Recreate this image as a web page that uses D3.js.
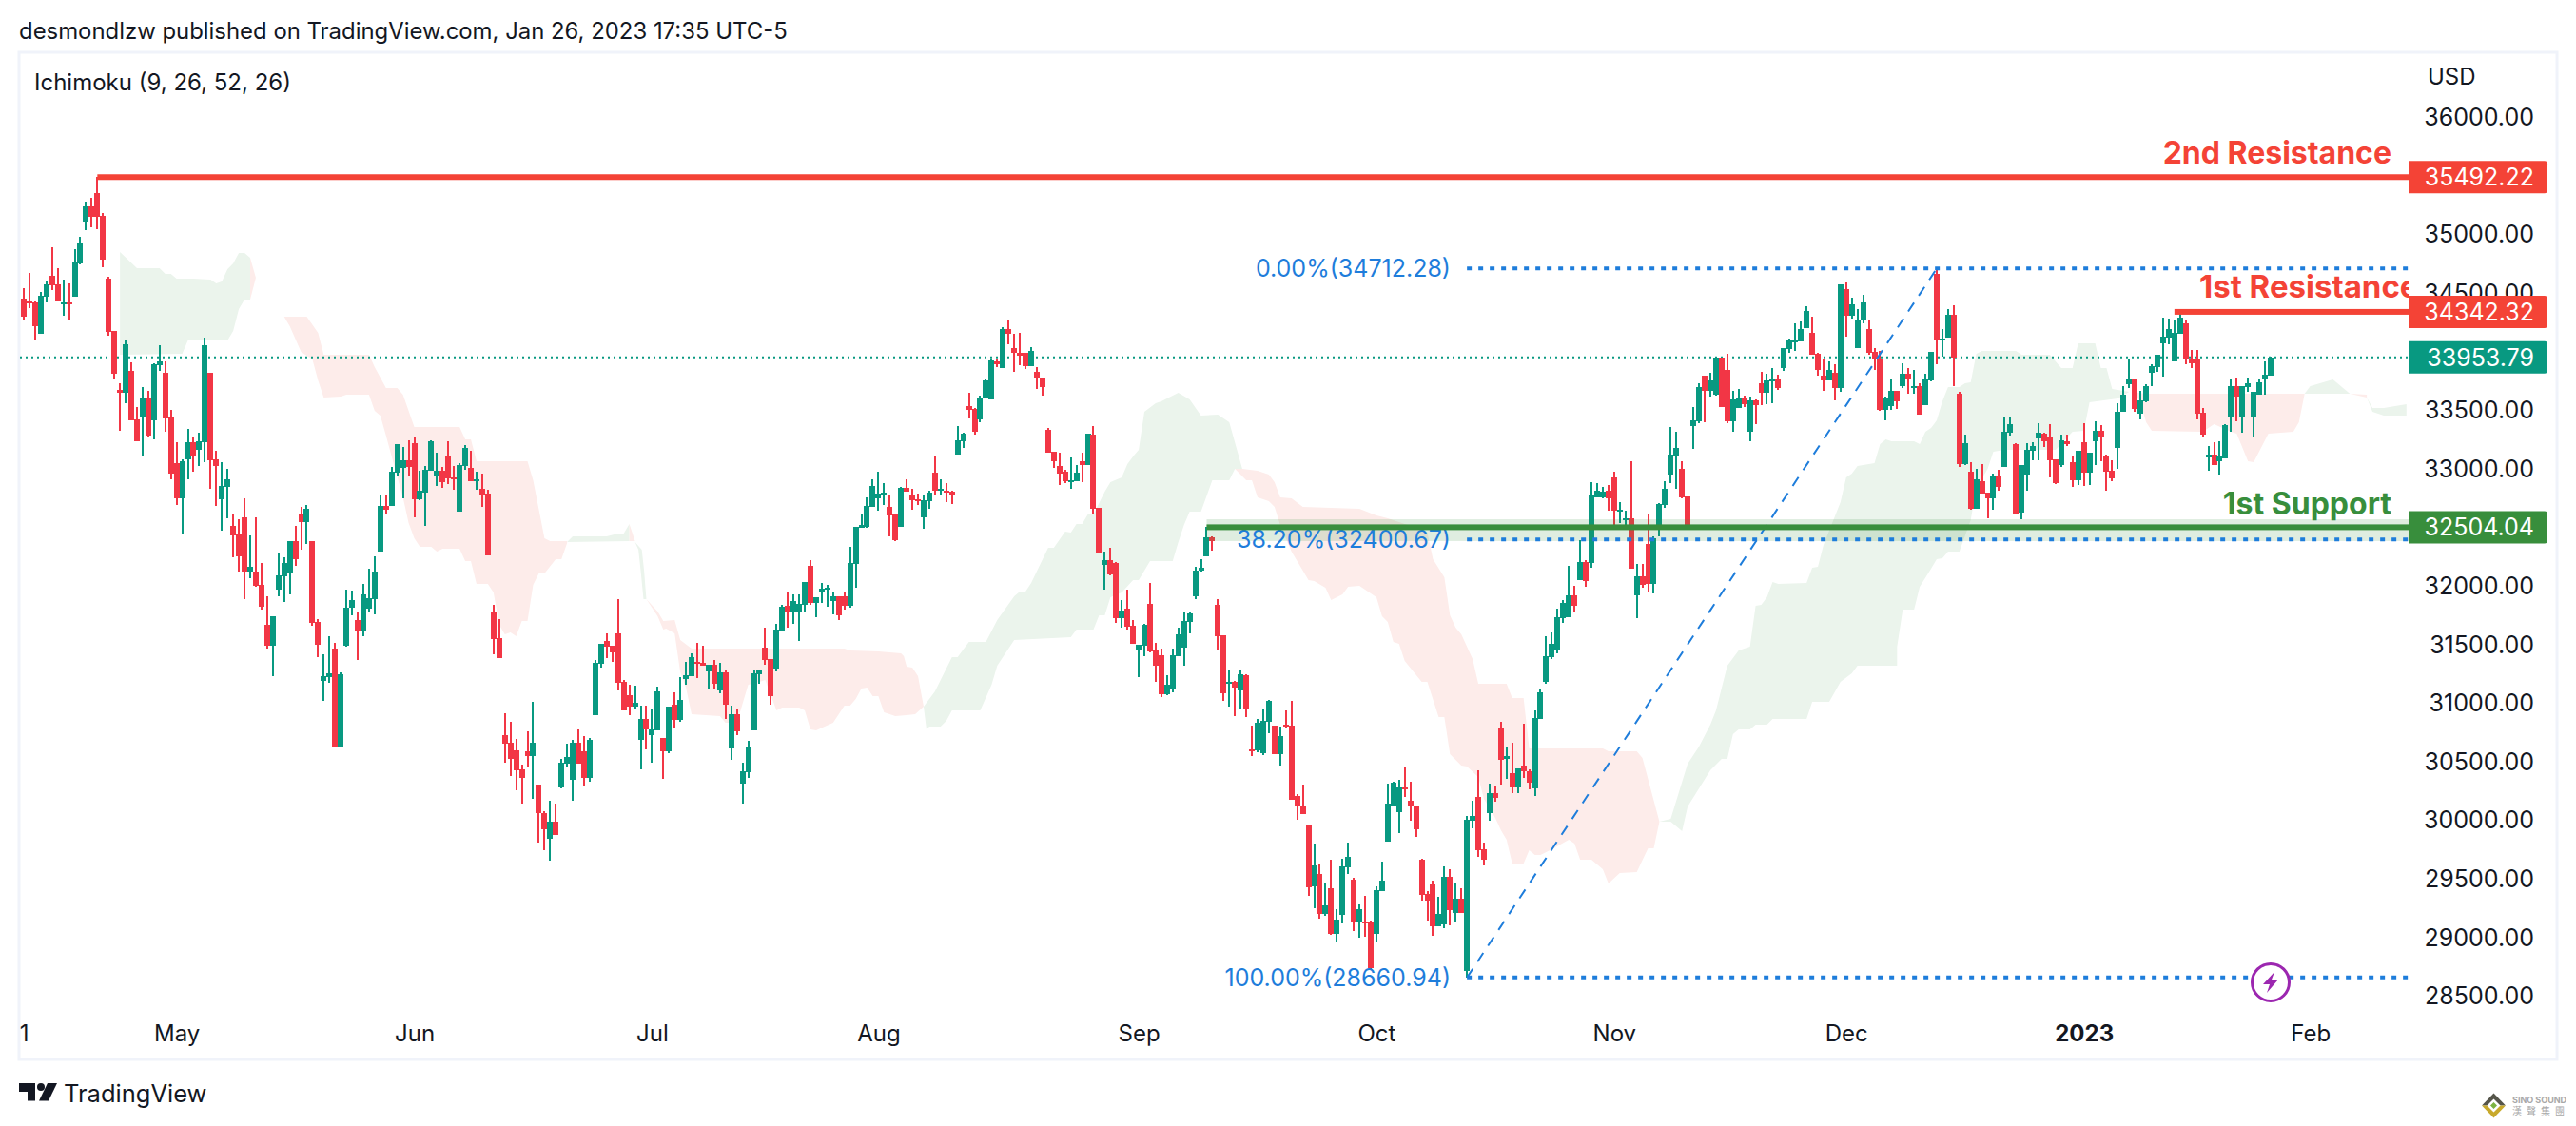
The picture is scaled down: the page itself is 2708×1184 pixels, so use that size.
<!DOCTYPE html>
<html>
<head>
<meta charset="utf-8">
<script src="https://cdnjs.cloudflare.com/ajax/libs/d3/7.8.5/d3.min.js"></script>
<style>
  html, body { margin: 0; padding: 0; background: #fff; }
  svg { display: block; }
  text { font-family: Inter, "Noto Sans", sans-serif; fill: #131722; }
</style>
</head>
<body>
<svg id="chart" width="2708" height="1184"></svg>
<script>
// Candles, one value per bar
var opens = [
34456,34431,34420,34155,34474,34650,34577,34407,34423,34472,
34756,35113,35243,35356,35162,34626,34180,33676,33652,33839,
33425,33441,33603,33417,33887,33822,33441,33051,32751,33084,
33230,33165,33230,33822,33084,32743,32848,32516,32443,32589,
32126,32126,32012,31671,31493,31972,32085,32110,32386,32613,
32548,32386,31696,31192,31228,31468,30636,31493,31818,31712,
31623,31809,31891,32296,32686,32686,32970,33011,33076,33222,
32743,32800,32986,32946,32986,33116,32930,32637,33027,33011,
32897,32832,32792,31777,31558,30730,30665,30600,30438,30592,
30551,30308,30064,29845,29991,30284,30486,30348,30665,30592,
30365,30900,31339,31533,31493,31598,31184,31071,30973,30689,
30868,30730,30771,30706,30591,30989,30859,31208,31232,31354,
31346,31273,31330,31111,31265,30616,30908,30315,30413,30770,
31249,31476,31379,31297,31622,31833,31776,31784,31841,32174,
31857,31947,31971,31874,31914,31914,31833,32190,32499,32507,
32677,32750,32775,32677,32612,32507,32840,32775,32742,32588,
32726,32969,32815,32815,32807,33124,33237,33538,33513,33424,
33603,33595,33920,33863,34196,34033,33993,33993,33879,33830,
33782,33335,33149,33027,32978,32897,32897,33067,33035,33295,
32670,32183,32223,32199,31728,31809,31663,31452,31493,31850,
31452,31412,31079,31119,31403,31477,31696,31915,32134,32256,
32418,31842,31582,31168,31184,31111,31241,30608,30600,30576,
30843,30811,30567,30819,30811,30210,30129,29959,29439,29545,
29204,29423,29034,29196,29602,29496,29131,29139,29139,29034,
29399,29821,30130,30073,30284,30170,30130,29667,29375,29456,
29099,29115,29521,29212,29334,28717,30000,30203,29756,30065,
30235,30795,30527,30405,30284,30470,30422,30276,30868,31185,
31396,31453,31728,31737,31923,32053,32207,32199,32759,32759,
32816,32933,32637,32564,32580,31923,32085,32361,32020,32499,
32694,32953,33116,33002,32767,33367,33408,33798,33668,33635,
33952,33846,33408,33522,33611,33319,33587,33733,33651,33757,
33765,33863,34025,34090,34090,34203,34163,33984,33798,33757,
33822,33692,34536,34309,34033,34268,34195,34000,33944,33505,
33538,33668,33708,33814,33700,33708,33546,33757,34666,34098,
34122,34317,33643,33043,32978,32662,32897,32800,32751,32938,
33019,33311,33213,32629,32954,33157,33262,33303,33278,33084,
33035,33238,33059,32905,33230,32970,33238,33327,33108,32986,
33181,33489,33725,33774,33473,33579,33822,33871,34074,34123,
33920,34155,34244,33944,33944,33481,33100,33124,33067,33092,
33449,33709,33449,33701,33449,33635,33765,33798];

var highs = [
34542,34672,34434,34510,34602,34894,34715,34618,34585,34878,
34983,35283,35316,35492,35186,34642,34180,33733,34106,33912,
33530,33701,33668,33904,34058,33920,33506,33230,33084,33344,
33279,33311,34123,33822,33157,33059,33003,32613,32572,32751,
32434,32589,32199,31915,31744,32280,32248,32386,32516,32678,
32694,32386,31720,31423,31574,31517,31265,31972,31964,31777,
32021,32150,32256,32775,32775,33019,33214,33189,33246,33270,
32986,33027,33246,33141,33019,33238,33027,33051,33206,33157,
32978,32962,32824,31842,31720,30917,30844,30698,30478,30762,
31014,30308,30081,30170,30146,30527,30657,30689,30779,30722,
30706,31371,31509,31598,31493,31891,31201,31160,31152,30982,
30982,30957,31144,30706,30973,31095,31224,31354,31427,31517,
31492,31330,31370,31346,31281,30981,30948,30494,30681,31289,
31289,31646,31379,31679,31841,31947,31931,31931,32036,32223,
31906,32028,32012,31947,31914,31955,32336,32507,32612,32758,
32913,32978,32880,32775,32612,32848,32913,32832,32791,32775,
32815,33107,32913,32880,32815,33367,33310,33651,33521,33627,
33765,33948,33944,34212,34277,34155,34163,33993,34041,33871,
33782,33351,33149,33140,32994,33100,33035,33140,33303,33368,
32670,32296,32329,32207,31882,31972,31712,31501,31679,32028,
31517,31468,31241,31468,31647,31785,31785,32166,32231,32507,
32426,31890,31582,31282,31192,31282,31249,30811,30868,30957,
31030,30811,30803,30941,31022,30228,30308,29959,29805,29634,
29472,29667,29245,29675,29813,29513,29285,29358,29147,29440,
29651,30316,30332,30349,30462,30332,30130,29675,29399,29488,
29350,29610,29586,29464,29423,30040,30170,30430,29813,30316,
30292,30844,30625,30665,30446,30827,30438,30941,31120,31574,
31607,31810,31883,32175,32004,32394,32224,32889,32880,32848,
32864,32978,32718,32645,33067,32190,32190,32613,32426,32710,
32897,33359,33319,33067,32767,33530,33733,33798,33822,33960,
33952,33984,33668,33684,33627,33619,33595,33830,33814,33863,
33806,34033,34114,34244,34260,34390,34301,33992,33936,33919,
33895,34577,34593,34463,34366,34487,34276,34033,34009,33619,
33773,33668,33903,33863,33846,33733,33814,34000,34712,34195,
34366,34398,33660,33295,33059,33002,33043,32800,32962,32994,
33441,33441,33222,33035,33222,33230,33392,33311,33384,33084,
33295,33295,33116,33157,33392,33140,33408,33376,33124,33076,
33562,33709,33936,33774,33668,33725,33895,33976,34293,34285,
34269,34342,34269,34017,34017,33522,33197,33230,33238,33384,
33774,33782,33709,33782,33660,33774,33920,33960];

var lows = [
34277,34374,34109,34155,34423,34529,34439,34309,34277,34472,
34748,35040,35064,35048,34723,34139,33774,33327,33563,33417,
33238,33108,33279,33254,33839,33319,32913,32694,32451,32913,
32978,33027,33059,32832,32686,32475,32581,32248,32126,31891,
32069,31996,31801,31468,31236,31915,31866,31931,32175,32313,
32361,31663,31395,31022,31176,30636,30636,31485,31753,31371,
31574,31785,31761,32296,32613,32686,32946,32751,32946,32589,
32735,32516,32986,32857,32840,32873,32824,32637,32995,32897,
32824,32678,32264,31420,31387,30495,30381,30259,30146,30462,
30186,29813,29748,29658,29878,30275,30454,30170,30486,30300,
30332,30900,31306,31387,31355,31111,30941,30900,30949,30438,
30608,30495,30771,30356,30575,30794,30843,31159,31232,31216,
31322,31127,31119,31086,30867,30518,30729,30145,30364,30770,
31168,31330,30989,31273,31622,31646,31679,31533,31784,31841,
31736,31857,31825,31760,31711,31801,31817,31987,32499,32499,
32677,32645,32693,32426,32385,32507,32807,32653,32693,32491,
32661,32775,32775,32718,32702,33124,33181,33432,33294,33400,
33603,33595,33871,33863,34066,33830,33887,33855,33879,33684,
33628,33140,33011,32864,32881,32832,32897,32889,33035,32621,
32280,31972,32093,31688,31647,31631,31509,31225,31403,31436,
31184,31054,31071,31095,31403,31322,31598,31890,32126,32256,
32304,31460,31022,30973,30892,30949,30884,30551,30584,30559,
30746,30567,30470,30787,30178,30007,30059,29358,29253,29164,
29188,29026,28961,29123,29545,29058,29001,29009,28725,28961,
29399,29821,30121,29894,30203,30000,29862,29318,29147,29017,
29099,29082,29107,29139,29212,28661,29935,29691,29618,30000,
30162,30308,30357,30235,30235,30365,30267,30211,30868,31168,
31379,31428,31688,31737,31777,32053,31996,32159,32759,32751,
32646,32507,32540,32499,32150,31728,31988,31955,31939,32426,
32669,32880,32832,32750,32483,33173,33392,33400,33619,33627,
33530,33392,33319,33522,33530,33238,33384,33546,33554,33562,
33676,33838,33992,34009,34090,34203,33976,33798,33668,33757,
33587,33660,34130,34285,34033,34244,33976,33846,33497,33416,
33505,33513,33692,33643,33643,33465,33546,33749,33895,33960,
34122,33708,33018,33035,32653,32662,32791,32580,32653,32816,
33019,33287,32613,32572,32816,33076,33076,33189,32929,32873,
33019,33197,32848,32864,32856,32864,33035,33067,32816,32897,
33002,33489,33692,33489,33425,33571,33709,33830,33790,34066,
33920,34155,33895,33863,33425,33270,32986,33035,32954,33092,
33319,33408,33311,33660,33278,33635,33635,33798];

var closes = [
34299,34415,34220,34480,34577,34569,34439,34423,34415,34764,
34934,35243,35154,35154,34788,34171,33814,33652,34066,33417,
33238,33603,33287,33895,33920,33433,32962,32751,33068,33230,
33108,33238,34058,33076,33027,32857,32913,32434,32256,32126,
32167,32004,31826,31493,31744,32094,32199,32386,32231,32548,
32662,31688,31501,31233,31257,30636,31249,31818,31883,31623,
31931,31899,32126,32686,32654,32978,33214,33076,33019,32743,
32816,32995,33238,32986,32889,32921,32913,33035,33181,32897,
32913,32783,32264,31550,31387,30657,30527,30430,30365,30551,
30665,30064,29926,29991,29878,30495,30543,30665,30486,30365,
30689,31347,31509,31485,31436,31176,30941,30973,31006,30868,
30779,30779,31103,30592,30973,30859,31030,31241,31395,31338,
31322,31330,31168,31265,30989,30908,30762,30421,30624,31257,
31289,31370,31062,31630,31825,31776,31874,31849,32036,31857,
31906,31979,31987,31914,31752,31833,32198,32507,32523,32685,
32856,32791,32799,32604,32393,32840,32807,32734,32726,32734,
32799,32815,32832,32799,32775,33245,33302,33505,33319,33611,
33757,33928,33899,34196,34151,33993,33968,33879,34009,33782,
33700,33140,33067,32962,32897,32905,32970,33035,33303,32662,
32280,32223,32102,31728,31793,31655,31509,31501,31671,31444,
31322,31079,31160,31412,31590,31704,31769,32134,32158,32418,
32386,31574,31087,31184,31136,31249,30957,30600,30835,30851,
31022,30567,30722,30803,30178,30129,30059,29431,29618,29204,
29277,29034,29155,29610,29691,29131,29245,29131,28741,29407,
29488,30146,30324,30284,30267,30121,29927,29366,29318,29099,
29204,29521,29237,29334,29212,30008,30040,29748,29667,30235,
30194,30519,30552,30284,30446,30422,30324,30876,31095,31404,
31509,31737,31858,31923,31834,32207,32045,32776,32816,32808,
32747,32646,32653,32580,32150,32085,32012,32020,32410,32702,
32832,33124,33181,32759,32507,33416,33700,33668,33757,33952,
33530,33408,33595,33611,33554,33587,33546,33651,33757,33765,
33692,34033,34098,34098,34195,34350,33976,33846,33757,33846,
33692,34577,34309,34406,34276,34423,33992,33936,33505,33603,
33668,33578,33814,33773,33708,33465,33765,34000,34098,34114,
34317,33952,33043,33222,32662,32913,32791,32751,32938,32848,
33319,33384,32621,33035,33165,33197,33311,33238,33076,32881,
33246,33213,32905,33157,32970,33140,33327,33270,32978,32921,
33489,33635,33774,33514,33587,33709,33879,33976,34131,34196,
34163,34293,33944,33903,33473,33295,33124,33035,33108,33376,
33709,33619,33709,33733,33660,33741,33806,33952];

// Ichimoku cloud outlines as [bar, price]
var kumoGreen1 = [[18,34853],[21,34715],[25,34715],[26,34666],[27,34666],[28,34626],[31,34626],[34,34618],[35,34585],[36,34601],[37,34707],[38,34756],[39,34845],[40,34845],[41,34804],[41,34447],[40,34447],[39,34366],[38,34179],[37,34098],[30,34098],[29,33984],[18,33976]];
var kumoRed1 = [[41,34804],[42,34634],[41,34447]];
var kumoRed2 = [[47,34301],[51,34301],[53,34163],[54,33976],[62,33976],[63,33871],[65,33692],[67,33692],[68,33635],[70,33359],[78,33359],[79,33254],[80,33254],[81,33067],[90,33067],[91,32905],[93,32410],[94,32385],[97,32385],[97,32369],[96,32231],[95,32231],[93,32109],[92,32109],[91,32012],[90,31703],[89,31703],[88,31574],[87,31606],[86,31590],[85,31671],[84,31947],[83,32020],[81,32020],[80,32215],[79,32215],[78,32321],[75,32321],[74,32296],[73,32337],[71,32337],[70,32410],[69,32540],[68,32759],[66,33108],[65,33286],[64,33457],[63,33497],[62,33635],[58,33635],[57,33619],[54,33611],[53,33757],[52,33936],[50,34001],[48,34220]];
var kumoGreen2 = [[97,32377],[98,32426],[104,32426],[106,32450],[107,32450],[108,32532],[108,32385]];
var kumoRed3 = [[108,32532],[109,32385],[108,32385]];
var kumoGreen3 = [[109,32377],[110.2,32312],[110.6,32134],[111,31890],[110.5,31890],[110,32134],[109.6,32312]];
var kumoRed4 = [[111,31890],[113,31785],[114,31703],[116,31712],[117,31541],[119,31468],[146,31468],[147,31452],[152,31444],[154,31436],[156,31428],[156.5,31403],[157,31314],[158,31306],[159,31233],[160,30973],[158.5,30908],[157,30900],[155,30892],[153,30924],[152,31062],[151,31062],[150,31135],[149,31127],[148,31038],[147,30981],[146,30981],[144,30835],[141,30770],[140,30778],[139,30941],[138,30965],[135,30965],[134,30941],[132,31200],[131,31184],[129,31160],[127,30835],[125,30835],[124,30892],[119,30908],[118,31135],[117,31265],[116,31598],[114.5,31639],[114,31630],[113,31744]];
var kumoGreen4 = [[160,30973],[162,31103],[165,31395],[166,31395],[168,31525],[171,31525],[173,31712],[176,31915],[177,31955],[178,31955],[179,32028],[182,32328],[183,32328],[185,32467],[186,32458],[187,32532],[188,32532],[189,32613],[190,32613],[192,32807],[193,32889],[195,32929],[196,33043],[197,33108],[198,33165],[199,33489],[201,33562],[202,33579],[205,33652],[207,33595],[209,33457],[212,33465],[214,33400],[216.3,33002],[215,33002],[214,32905],[211,32905],[209,32637],[207,32637],[206,32523],[205,32377],[204,32215],[200,32215],[198,32053],[197,32053],[195,31947],[193,31906],[192,31752],[191,31752],[190,31630],[187,31630],[186,31566],[176,31541],[173,31322],[172,31160],[170,30941],[165,30941],[164,30851],[163,30803],[161,30803],[160.5,30778]];
var kumoRed5 = [[216.3,33002],[219,32986],[221,32954],[222,32889],[223,32759],[225,32751],[227,32678],[237,32661],[240,32605],[242,32580],[247,32499],[249,32458],[250,32231],[252,32077],[253,31752],[254,31647],[255,31590],[257,31379],[258,31168],[263,31168],[264,31046],[266,31046],[267,30616],[280,30616],[281,30592],[286,30592],[287,30535],[290,29991],[289,29764],[288,29764],[286,29561],[283,29553],[281,29463],[280,29585],[278,29666],[276,29666],[275,29804],[274,29837],[271,29756],[269,29707],[268,29707],[267,29747],[266,29634],[264,29634],[263,29837],[262,29918],[261,30023],[259,30186],[258,30372],[256,30462],[255,30470],[253,30567],[252,30884],[251,30884],[249,31184],[248,31184],[245,31363],[244,31509],[243,31525],[242,31695],[241,31744],[240,31906],[237,32004],[235,31996],[234,31931],[232,31882],[231,31988],[229,32045],[228,32053],[226,32215],[225,32296],[223,32523],[222,32678],[221,32726],[219,32759],[218,32905],[217,32905],[215,33002]];
var kumoGreen5 = [[290,29991],[292,30015],[295,30486],[297,30632],[299,30819],[300,30941],[302,31322],[304,31452],[306,31484],[307,31833],[308,31842],[309,31906],[310,32036],[311,32020],[316,32028],[317,32158],[318,32166],[319,32353],[321,32596],[322,32718],[323,32929],[324,32962],[325,33027],[328,33051],[329,33213],[330,33254],[331,33238],[335,33238],[336,33213],[337,33319],[338,33351],[339,33416],[340,33579],[341,33701],[343,33701],[344,33733],[345,33741],[346,33984],[347,34009],[353,34009],[354,33976],[359,33976],[361,33863],[363,33863],[364,34074],[367,34074],[368,33863],[369,33863],[370,33684],[373,33660],[371,33603],[366,33571],[365,33327],[363,33319],[360,33165],[351,33165],[349,33148],[348,33002],[346,32840],[345,32564],[343,32296],[341,32296],[340,32239],[339,32231],[338,32150],[336,31996],[335,31801],[333,31801],[332,31484],[332,31322],[325,31322],[324,31257],[322,31184],[320,31014],[317,31014],[316,30868],[310,30868],[309,30819],[307,30819],[306,30778],[304,30778],[303,30738],[302,30526],[301,30526],[299,30429],[295,30121],[294,29910],[292,29991]];
var kumoRed6 = [[373,33660],[376,33644],[404,33644],[403,33400],[402,33319],[397.6,33303],[395,33059],[394,33067],[392,33303],[391,33319],[388,33384],[386,33319],[377,33327],[376,33400],[375,33570],[374,33652]];
var kumoGreen6 = [[404,33644],[405,33709],[409,33765],[412,33644]];
var kumoRed7 = [[412,33644],[415,33636],[415,33611]];
var kumoGreen7 = [[415,33611],[416,33522],[418,33522],[422,33554],[422,33457],[418,33457],[416,33489]];

var kumoGreens = [kumoGreen1, kumoGreen2, kumoGreen3, kumoGreen4, kumoGreen5, kumoGreen6, kumoGreen7];
var kumoReds = [kumoRed1, kumoRed2, kumoRed3, kumoRed4, kumoRed5, kumoRed6, kumoRed7];

// axes
var priceTicks = [36000,35500,35000,34500,34000,33500,33000,32500,32000,31500,31000,30500,30000,29500,29000,28500];
var timeBars = [1,28,70,112,152,198,240,282,323,365,405];
var timeLabels = ["1","May","Jun","Jul","Aug","Sep","Oct","Nov","Dec","2023","Feb"];

// drawings
var fibPrices = [34712.28, 32400.67, 28660.94];
var fibTexts = ["0.00%(34712.28)", "38.20%(32400.67)", "100.00%(28660.94)"];
var levelPrices = [35492.22, 34342.32, 32504.04];
var levelStartBars = [14, 381, 210];
var levelColors = ["#f44336", "#f44336", "#388e3c"];
var lastPrice = 33953.79;
var supportBand = [32572, 32386];
var swingBars = [256, 339];

var green = "#089981", red = "#f23645", blue = "#1e7ddb";

var svg = d3.select("#chart");

var paneLeft = 21, paneRight = 2532, paneTop = 56, paneBottom = 1060;

var x = d3.scaleLinear().domain([1, 398]).range([25, 2387]);
var y = d3.scaleLinear().domain([28500, 36000]).range([1047.7, 123.7]);

svg.append("rect")
    .attr("x", 20).attr("y", 55)
    .attr("width", 2668).attr("height", 1059)
    .attr("fill", "#fff")
    .attr("stroke", "#f0f3fa")
    .attr("stroke-width", 3);

svg.append("clipPath").attr("id", "pane")
  .append("rect")
    .attr("x", paneLeft).attr("y", paneTop)
    .attr("width", paneRight - paneLeft).attr("height", paneBottom - paneTop);

// price axis first so the price labels cover it
var yAxis = svg.append("g")
    .attr("transform", "translate(" + paneRight + ",0)")
    .call(d3.axisRight(y).tickValues(priceTicks).tickSize(0).tickFormat(d3.format(".2f")));
yAxis.select(".domain").remove();
yAxis.selectAll("text")
    .attr("x", 132)
    .attr("text-anchor", "end")
    .attr("font-size", 25)
    .style("font-family", "Inter");

var xAxis = svg.append("g")
    .attr("transform", "translate(0,1070)")
    .call(d3.axisBottom(x).tickValues(timeBars).tickSize(0).tickFormat(function(d, i) { return timeLabels[i]; }));
xAxis.select(".domain").remove();
xAxis.selectAll("text")
    .attr("dy", "0.71em")
    .attr("y", 8)
    .attr("font-size", 24)
    .attr("font-weight", function(d, i) { return timeLabels[i] == "2023" ? 700 : 400; })
    .style("font-family", "Inter");

var pane = svg.append("g").attr("clip-path", "url(#pane)");

var outline = d3.line()
    .x(function(d) { return x(d[0]); })
    .y(function(d) { return y(d[1]); });

pane.selectAll("path.kumo-g").data(kumoGreens).enter().append("path")
    .attr("class", "kumo-g")
    .attr("d", function(d) { return outline(d) + "Z"; })
    .attr("fill", "#ebf4ec");
pane.selectAll("path.kumo-r").data(kumoReds).enter().append("path")
    .attr("class", "kumo-r")
    .attr("d", function(d) { return outline(d) + "Z"; })
    .attr("fill", "#fdecea");

// last price dotted line
pane.append("line")
    .attr("x1", paneLeft).attr("x2", paneRight)
    .attr("y1", y(lastPrice)).attr("y2", y(lastPrice))
    .attr("stroke", green).attr("stroke-width", 2)
    .attr("stroke-dasharray", "2 4");

var bars = d3.range(opens.length);
var barColor = function(i) { return closes[i] >= opens[i] ? green : red; };

pane.selectAll("rect.wick").data(bars).enter().append("rect")
    .attr("class", "wick")
    .attr("x", function(i) { return Math.round(x(i + 1)) - 1; })
    .attr("width", 2)
    .attr("y", function(i) { return y(highs[i]); })
    .attr("height", function(i) { return Math.max(1, y(lows[i]) - y(highs[i])); })
    .attr("fill", barColor)
    .attr("shape-rendering", "crispEdges");

pane.selectAll("rect.body").data(bars).enter().append("rect")
    .attr("class", "body")
    .attr("x", function(i) { return Math.round(x(i + 1)) - 3; })
    .attr("width", 6)
    .attr("y", function(i) { return y(Math.max(opens[i], closes[i])); })
    .attr("height", function(i) { return Math.max(2, Math.abs(y(opens[i]) - y(closes[i]))); })
    .attr("fill", barColor)
    .attr("shape-rendering", "crispEdges");

// support band behind the level line
pane.append("rect")
    .attr("x", x(levelStartBars[2])).attr("width", paneRight - x(levelStartBars[2]))
    .attr("y", y(supportBand[0])).attr("height", y(supportBand[1]) - y(supportBand[0]))
    .attr("fill", "#388e3c").attr("fill-opacity", 0.16);

// fib levels and the swing they are drawn from
pane.selectAll("line.fib").data(fibPrices).enter().append("line")
    .attr("class", "fib")
    .attr("x1", x(swingBars[0])).attr("x2", paneRight)
    .attr("y1", function(d) { return y(d); }).attr("y2", function(d) { return y(d); })
    .attr("stroke", blue).attr("stroke-width", 4)
    .attr("stroke-dasharray", "5 7");

pane.append("line")
    .attr("x1", x(swingBars[0])).attr("y1", y(fibPrices[2]))
    .attr("x2", x(swingBars[1])).attr("y2", y(fibPrices[0]))
    .attr("stroke", blue).attr("stroke-width", 2)
    .attr("stroke-dasharray", "11 9");

pane.selectAll("text.fib").data(fibTexts).enter().append("text")
    .attr("class", "fib")
    .attr("x", 1525)
    .attr("y", function(d, i) { return y(fibPrices[i]); })
    .attr("dy", "0.36em")
    .attr("text-anchor", "end")
    .attr("font-size", 25)
    .style("fill", blue)
    .text(function(d) { return d; });

// horizontal levels
pane.selectAll("rect.level").data(levelPrices).enter().append("rect")
    .attr("class", "level")
    .attr("x", function(d, i) { return x(levelStartBars[i]); })
    .attr("width", function(d, i) { return paneRight - x(levelStartBars[i]); })
    .attr("y", function(d) { return y(d) - 3; })
    .attr("height", 6)
    .attr("fill", function(d, i) { return levelColors[i]; });

pane.append("text").attr("x", 2514).attr("y", 160).attr("dy", "0.36em")
    .attr("text-anchor", "end").attr("font-size", 32).attr("font-weight", 700)
    .style("fill", "#f44336").text("2nd Resistance");
pane.append("text").attr("x", 2312).attr("y", 301).attr("dy", "0.36em")
    .attr("font-size", 33).attr("font-weight", 700)
    .style("fill", "#f44336").text("1st Resistance");
pane.append("text").attr("x", 2514).attr("y", 529).attr("dy", "0.36em")
    .attr("text-anchor", "end").attr("font-size", 32).attr("font-weight", 700)
    .style("fill", "#388e3c").text("1st Support");

// price labels on the axis
var tagPrices = levelPrices.concat([lastPrice]);
var tagColors = levelColors.concat([green]);
var tag = svg.selectAll("g.tag").data(tagPrices).enter().append("g")
    .attr("class", "tag")
    .attr("transform", function(d) { return "translate(" + paneRight + "," + y(d) + ")"; });
tag.append("path")
    .attr("d", "M0,-17H143a3,3 0 0 1 3,3V14a3,3 0 0 1 -3,3H0Z")
    .attr("fill", function(d, i) { return tagColors[i]; });
tag.append("text")
    .attr("x", 132).attr("dy", "0.36em")
    .attr("text-anchor", "end")
    .attr("font-size", 25)
    .style("fill", "#fff")
    .text(function(d) { return d3.format(".2f")(d); });

// alert icon
var icon = svg.append("g").attr("transform", "translate(" + x(398) + "," + y(28620) + ")");
icon.append("circle").attr("r", 19.5).attr("fill", "#fff").attr("stroke", "#9c27b0").attr("stroke-width", 3);
icon.append("path").attr("d", "M4,-11L-8,2H-1L-4,11L8,-3H1Z").attr("fill", "#9c27b0");

// header and footer text
svg.append("text").attr("x", 20).attr("y", 32).attr("dy", "0.36em")
    .attr("font-size", 23.9).text("desmondlzw published on TradingView.com, Jan 26, 2023 17:35 UTC-5");
svg.append("text").attr("x", 36).attr("y", 86).attr("dy", "0.36em")
    .attr("font-size", 24).text("Ichimoku (9, 26, 52, 26)");
svg.append("text").attr("x", 2552).attr("y", 80).attr("dy", "0.36em")
    .attr("font-size", 24).text("USD");

// TradingView mark
svg.append("path").attr("d", "M20,1139H37V1157.5H29V1148H20Z").attr("fill", "#131722");
svg.append("circle").attr("cx", 43).attr("cy", 1143).attr("r", 4).attr("fill", "#131722");
svg.append("path").attr("d", "M50,1139H60L51,1157.5H41Z").attr("fill", "#131722");
svg.append("text").attr("x", 67).attr("y", 1150).attr("dy", "0.36em")
    .attr("font-size", 25.5).text("TradingView");

// watermark
var mark = svg.append("g").attr("transform", "translate(2621.5,1162.5)");
mark.append("path").attr("d", "M0,-13L12.5,0H-12.5Z").attr("fill", "#55554a");
mark.append("path").attr("d", "M0,13L12.5,0H-12.5Z").attr("fill", "#c8a92c");
mark.append("path").attr("d", "M0,-7L7,0L0,7L-7,0Z").attr("fill", "#fff");
mark.append("path").attr("d", "M0,-3.5L3.5,0L0,3.5L-3.5,0Z").attr("fill", "#7cb342");
svg.append("text").attr("x", 2641).attr("y", 1157).attr("dy", "0.36em")
    .attr("font-size", 9).attr("font-weight", 700).style("fill", "#a8a8a8").text("SINO SOUND");
svg.append("text").attr("x", 2641).attr("y", 1168).attr("dy", "0.36em")
    .attr("font-size", 10).attr("letter-spacing", 5)
    .style("font-family", "'Noto Sans CJK TC'").style("fill", "#a8a8a8").text("漢聲集團");
</script>
</body>
</html>
